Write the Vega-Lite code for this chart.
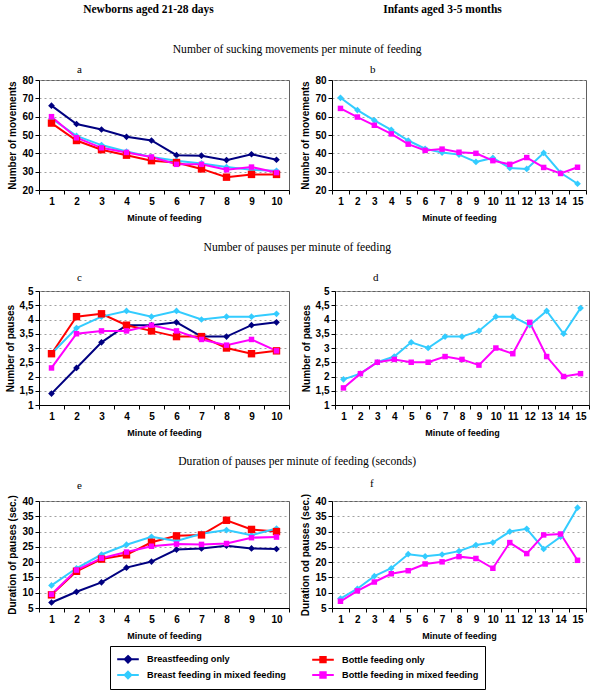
{
  "$schema": "https://vega.github.io/schema/vega-lite/v6.json",
  "background": "white",
  "padding": {"left": 4, "top": 4, "right": 4, "bottom": 4},
  "config": {
    "view": {"stroke": "#606060"},
    "font": "Liberation Sans",
    "axis": {
      "labelFont": "Liberation Sans", "labelFontWeight": "bold", "labelFontSize": 10, "labelColor": "black",
      "titleFont": "Liberation Sans", "titleFontWeight": "bold", "titleFontSize": 10, "titleColor": "black",
      "domainColor": "black", "tickColor": "black", "tickSize": 4
    },
    "axisX": {"labelAngle": 0, "grid": false, "tickBand": "extent", "titlePadding": 7, "titleFontSize": 9},
    "axisY": {"gridDash": [2, 3], "gridColor": "#a0a0a0", "titlePadding": 4},
    "title": {"font": "Liberation Serif", "fontWeight": "normal", "fontSize": 11, "color": "black"},
    "legend": {
      "orient": "bottom", "columns": 2, "columnPadding": 22, "rowPadding": 0, "offset": 5,
      "labelFont": "Liberation Sans", "labelFontWeight": "bold", "labelFontSize": 9.2, "labelColor": "black",
      "symbolSize": 144, "symbolStrokeWidth": 2, "symbolOffset": 5, "labelOffset": 12,
      "strokeColor": "black", "padding": 6, "labelLimit": 300,
      "layout": {"anchor": "middle"}
    }
  },
  "datasets": {
    "feeding": [
      {"panel": "a", "minute": 1, "series": "Breastfeeding only", "value": 66},
      {"panel": "a", "minute": 2, "series": "Breastfeeding only", "value": 56},
      {"panel": "a", "minute": 3, "series": "Breastfeeding only", "value": 53},
      {"panel": "a", "minute": 4, "series": "Breastfeeding only", "value": 49},
      {"panel": "a", "minute": 5, "series": "Breastfeeding only", "value": 47},
      {"panel": "a", "minute": 6, "series": "Breastfeeding only", "value": 39},
      {"panel": "a", "minute": 7, "series": "Breastfeeding only", "value": 38.7},
      {"panel": "a", "minute": 8, "series": "Breastfeeding only", "value": 36.3},
      {"panel": "a", "minute": 9, "series": "Breastfeeding only", "value": 39.5},
      {"panel": "a", "minute": 10, "series": "Breastfeeding only", "value": 36.5},
      {"panel": "a", "minute": 1, "series": "Bottle feeding only", "value": 56.5},
      {"panel": "a", "minute": 2, "series": "Bottle feeding only", "value": 47},
      {"panel": "a", "minute": 3, "series": "Bottle feeding only", "value": 42},
      {"panel": "a", "minute": 4, "series": "Bottle feeding only", "value": 39},
      {"panel": "a", "minute": 5, "series": "Bottle feeding only", "value": 36},
      {"panel": "a", "minute": 6, "series": "Bottle feeding only", "value": 35},
      {"panel": "a", "minute": 7, "series": "Bottle feeding only", "value": 31.5},
      {"panel": "a", "minute": 8, "series": "Bottle feeding only", "value": 27},
      {"panel": "a", "minute": 9, "series": "Bottle feeding only", "value": 28.5},
      {"panel": "a", "minute": 10, "series": "Bottle feeding only", "value": 28.5},
      {"panel": "a", "minute": 1, "series": "Breast feeding in mixed feeding", "value": 59},
      {"panel": "a", "minute": 2, "series": "Breast feeding in mixed feeding", "value": 49.5},
      {"panel": "a", "minute": 3, "series": "Breast feeding in mixed feeding", "value": 44.5},
      {"panel": "a", "minute": 4, "series": "Breast feeding in mixed feeding", "value": 41},
      {"panel": "a", "minute": 5, "series": "Breast feeding in mixed feeding", "value": 38},
      {"panel": "a", "minute": 6, "series": "Breast feeding in mixed feeding", "value": 36},
      {"panel": "a", "minute": 7, "series": "Breast feeding in mixed feeding", "value": 34.5},
      {"panel": "a", "minute": 8, "series": "Breast feeding in mixed feeding", "value": 32.5},
      {"panel": "a", "minute": 9, "series": "Breast feeding in mixed feeding", "value": 31},
      {"panel": "a", "minute": 10, "series": "Breast feeding in mixed feeding", "value": 30.5},
      {"panel": "a", "minute": 1, "series": "Bottle feeding in mixed feeding", "value": 60},
      {"panel": "a", "minute": 2, "series": "Bottle feeding in mixed feeding", "value": 48.5},
      {"panel": "a", "minute": 3, "series": "Bottle feeding in mixed feeding", "value": 43},
      {"panel": "a", "minute": 4, "series": "Bottle feeding in mixed feeding", "value": 40.5},
      {"panel": "a", "minute": 5, "series": "Bottle feeding in mixed feeding", "value": 38},
      {"panel": "a", "minute": 6, "series": "Bottle feeding in mixed feeding", "value": 34},
      {"panel": "a", "minute": 7, "series": "Bottle feeding in mixed feeding", "value": 34},
      {"panel": "a", "minute": 8, "series": "Bottle feeding in mixed feeding", "value": 31},
      {"panel": "a", "minute": 9, "series": "Bottle feeding in mixed feeding", "value": 32.5},
      {"panel": "a", "minute": 10, "series": "Bottle feeding in mixed feeding", "value": 29.5},
      {"panel": "b", "minute": 1, "series": "Breast feeding in mixed feeding", "value": 70.3},
      {"panel": "b", "minute": 2, "series": "Breast feeding in mixed feeding", "value": 63.6},
      {"panel": "b", "minute": 3, "series": "Breast feeding in mixed feeding", "value": 58},
      {"panel": "b", "minute": 4, "series": "Breast feeding in mixed feeding", "value": 52.8},
      {"panel": "b", "minute": 5, "series": "Breast feeding in mixed feeding", "value": 47},
      {"panel": "b", "minute": 6, "series": "Breast feeding in mixed feeding", "value": 42.5},
      {"panel": "b", "minute": 7, "series": "Breast feeding in mixed feeding", "value": 40.4},
      {"panel": "b", "minute": 8, "series": "Breast feeding in mixed feeding", "value": 39.3},
      {"panel": "b", "minute": 9, "series": "Breast feeding in mixed feeding", "value": 35.3},
      {"panel": "b", "minute": 10, "series": "Breast feeding in mixed feeding", "value": 37.5},
      {"panel": "b", "minute": 11, "series": "Breast feeding in mixed feeding", "value": 32},
      {"panel": "b", "minute": 12, "series": "Breast feeding in mixed feeding", "value": 31.5},
      {"panel": "b", "minute": 13, "series": "Breast feeding in mixed feeding", "value": 40.2},
      {"panel": "b", "minute": 14, "series": "Breast feeding in mixed feeding", "value": 29.4},
      {"panel": "b", "minute": 15, "series": "Breast feeding in mixed feeding", "value": 23.4},
      {"panel": "b", "minute": 1, "series": "Bottle feeding in mixed feeding", "value": 64.5},
      {"panel": "b", "minute": 2, "series": "Bottle feeding in mixed feeding", "value": 59.8},
      {"panel": "b", "minute": 3, "series": "Bottle feeding in mixed feeding", "value": 55.3},
      {"panel": "b", "minute": 4, "series": "Bottle feeding in mixed feeding", "value": 50.6},
      {"panel": "b", "minute": 5, "series": "Bottle feeding in mixed feeding", "value": 45},
      {"panel": "b", "minute": 6, "series": "Bottle feeding in mixed feeding", "value": 41.6},
      {"panel": "b", "minute": 7, "series": "Bottle feeding in mixed feeding", "value": 42.3},
      {"panel": "b", "minute": 8, "series": "Bottle feeding in mixed feeding", "value": 40.6},
      {"panel": "b", "minute": 9, "series": "Bottle feeding in mixed feeding", "value": 40},
      {"panel": "b", "minute": 10, "series": "Bottle feeding in mixed feeding", "value": 36},
      {"panel": "b", "minute": 11, "series": "Bottle feeding in mixed feeding", "value": 34},
      {"panel": "b", "minute": 12, "series": "Bottle feeding in mixed feeding", "value": 37.7},
      {"panel": "b", "minute": 13, "series": "Bottle feeding in mixed feeding", "value": 32.3},
      {"panel": "b", "minute": 14, "series": "Bottle feeding in mixed feeding", "value": 29},
      {"panel": "b", "minute": 15, "series": "Bottle feeding in mixed feeding", "value": 32.4},
      {"panel": "c", "minute": 1, "series": "Breastfeeding only", "value": 1.4},
      {"panel": "c", "minute": 2, "series": "Breastfeeding only", "value": 2.3},
      {"panel": "c", "minute": 3, "series": "Breastfeeding only", "value": 3.2},
      {"panel": "c", "minute": 4, "series": "Breastfeeding only", "value": 3.8},
      {"panel": "c", "minute": 5, "series": "Breastfeeding only", "value": 3.8},
      {"panel": "c", "minute": 6, "series": "Breastfeeding only", "value": 3.9},
      {"panel": "c", "minute": 7, "series": "Breastfeeding only", "value": 3.4},
      {"panel": "c", "minute": 8, "series": "Breastfeeding only", "value": 3.4},
      {"panel": "c", "minute": 9, "series": "Breastfeeding only", "value": 3.8},
      {"panel": "c", "minute": 10, "series": "Breastfeeding only", "value": 3.9},
      {"panel": "c", "minute": 1, "series": "Bottle feeding only", "value": 2.8},
      {"panel": "c", "minute": 2, "series": "Bottle feeding only", "value": 4.1},
      {"panel": "c", "minute": 3, "series": "Bottle feeding only", "value": 4.2},
      {"panel": "c", "minute": 4, "series": "Bottle feeding only", "value": 3.8},
      {"panel": "c", "minute": 5, "series": "Bottle feeding only", "value": 3.6},
      {"panel": "c", "minute": 6, "series": "Bottle feeding only", "value": 3.4},
      {"panel": "c", "minute": 7, "series": "Bottle feeding only", "value": 3.4},
      {"panel": "c", "minute": 8, "series": "Bottle feeding only", "value": 3.0},
      {"panel": "c", "minute": 9, "series": "Bottle feeding only", "value": 2.8},
      {"panel": "c", "minute": 10, "series": "Bottle feeding only", "value": 2.9},
      {"panel": "c", "minute": 1, "series": "Breast feeding in mixed feeding", "value": 2.8},
      {"panel": "c", "minute": 2, "series": "Breast feeding in mixed feeding", "value": 3.7},
      {"panel": "c", "minute": 3, "series": "Breast feeding in mixed feeding", "value": 4.1},
      {"panel": "c", "minute": 4, "series": "Breast feeding in mixed feeding", "value": 4.3},
      {"panel": "c", "minute": 5, "series": "Breast feeding in mixed feeding", "value": 4.1},
      {"panel": "c", "minute": 6, "series": "Breast feeding in mixed feeding", "value": 4.3},
      {"panel": "c", "minute": 7, "series": "Breast feeding in mixed feeding", "value": 4.0},
      {"panel": "c", "minute": 8, "series": "Breast feeding in mixed feeding", "value": 4.1},
      {"panel": "c", "minute": 9, "series": "Breast feeding in mixed feeding", "value": 4.1},
      {"panel": "c", "minute": 10, "series": "Breast feeding in mixed feeding", "value": 4.2},
      {"panel": "c", "minute": 1, "series": "Bottle feeding in mixed feeding", "value": 2.3},
      {"panel": "c", "minute": 2, "series": "Bottle feeding in mixed feeding", "value": 3.5},
      {"panel": "c", "minute": 3, "series": "Bottle feeding in mixed feeding", "value": 3.6},
      {"panel": "c", "minute": 4, "series": "Bottle feeding in mixed feeding", "value": 3.6},
      {"panel": "c", "minute": 5, "series": "Bottle feeding in mixed feeding", "value": 3.8},
      {"panel": "c", "minute": 6, "series": "Bottle feeding in mixed feeding", "value": 3.6},
      {"panel": "c", "minute": 7, "series": "Bottle feeding in mixed feeding", "value": 3.3},
      {"panel": "c", "minute": 8, "series": "Bottle feeding in mixed feeding", "value": 3.1},
      {"panel": "c", "minute": 9, "series": "Bottle feeding in mixed feeding", "value": 3.3},
      {"panel": "c", "minute": 10, "series": "Bottle feeding in mixed feeding", "value": 2.9},
      {"panel": "d", "minute": 1, "series": "Breast feeding in mixed feeding", "value": 1.9},
      {"panel": "d", "minute": 2, "series": "Breast feeding in mixed feeding", "value": 2.1},
      {"panel": "d", "minute": 3, "series": "Breast feeding in mixed feeding", "value": 2.5},
      {"panel": "d", "minute": 4, "series": "Breast feeding in mixed feeding", "value": 2.7},
      {"panel": "d", "minute": 5, "series": "Breast feeding in mixed feeding", "value": 3.2},
      {"panel": "d", "minute": 6, "series": "Breast feeding in mixed feeding", "value": 3.0},
      {"panel": "d", "minute": 7, "series": "Breast feeding in mixed feeding", "value": 3.4},
      {"panel": "d", "minute": 8, "series": "Breast feeding in mixed feeding", "value": 3.4},
      {"panel": "d", "minute": 9, "series": "Breast feeding in mixed feeding", "value": 3.6},
      {"panel": "d", "minute": 10, "series": "Breast feeding in mixed feeding", "value": 4.1},
      {"panel": "d", "minute": 11, "series": "Breast feeding in mixed feeding", "value": 4.1},
      {"panel": "d", "minute": 12, "series": "Breast feeding in mixed feeding", "value": 3.8},
      {"panel": "d", "minute": 13, "series": "Breast feeding in mixed feeding", "value": 4.3},
      {"panel": "d", "minute": 14, "series": "Breast feeding in mixed feeding", "value": 3.5},
      {"panel": "d", "minute": 15, "series": "Breast feeding in mixed feeding", "value": 4.4},
      {"panel": "d", "minute": 1, "series": "Bottle feeding in mixed feeding", "value": 1.6},
      {"panel": "d", "minute": 2, "series": "Bottle feeding in mixed feeding", "value": 2.1},
      {"panel": "d", "minute": 3, "series": "Bottle feeding in mixed feeding", "value": 2.5},
      {"panel": "d", "minute": 4, "series": "Bottle feeding in mixed feeding", "value": 2.6},
      {"panel": "d", "minute": 5, "series": "Bottle feeding in mixed feeding", "value": 2.5},
      {"panel": "d", "minute": 6, "series": "Bottle feeding in mixed feeding", "value": 2.5},
      {"panel": "d", "minute": 7, "series": "Bottle feeding in mixed feeding", "value": 2.7},
      {"panel": "d", "minute": 8, "series": "Bottle feeding in mixed feeding", "value": 2.6},
      {"panel": "d", "minute": 9, "series": "Bottle feeding in mixed feeding", "value": 2.4},
      {"panel": "d", "minute": 10, "series": "Bottle feeding in mixed feeding", "value": 3.0},
      {"panel": "d", "minute": 11, "series": "Bottle feeding in mixed feeding", "value": 2.8},
      {"panel": "d", "minute": 12, "series": "Bottle feeding in mixed feeding", "value": 3.9},
      {"panel": "d", "minute": 13, "series": "Bottle feeding in mixed feeding", "value": 2.7},
      {"panel": "d", "minute": 14, "series": "Bottle feeding in mixed feeding", "value": 2.0},
      {"panel": "d", "minute": 15, "series": "Bottle feeding in mixed feeding", "value": 2.1},
      {"panel": "e", "minute": 1, "series": "Breastfeeding only", "value": 6.8},
      {"panel": "e", "minute": 2, "series": "Breastfeeding only", "value": 10.3},
      {"panel": "e", "minute": 3, "series": "Breastfeeding only", "value": 13.4},
      {"panel": "e", "minute": 4, "series": "Breastfeeding only", "value": 18.2},
      {"panel": "e", "minute": 5, "series": "Breastfeeding only", "value": 20.2},
      {"panel": "e", "minute": 6, "series": "Breastfeeding only", "value": 24.1},
      {"panel": "e", "minute": 7, "series": "Breastfeeding only", "value": 24.5},
      {"panel": "e", "minute": 8, "series": "Breastfeeding only", "value": 25.4},
      {"panel": "e", "minute": 9, "series": "Breastfeeding only", "value": 24.5},
      {"panel": "e", "minute": 10, "series": "Breastfeeding only", "value": 24.3},
      {"panel": "e", "minute": 1, "series": "Bottle feeding only", "value": 9.3},
      {"panel": "e", "minute": 2, "series": "Bottle feeding only", "value": 17},
      {"panel": "e", "minute": 3, "series": "Bottle feeding only", "value": 21},
      {"panel": "e", "minute": 4, "series": "Bottle feeding only", "value": 22.4},
      {"panel": "e", "minute": 5, "series": "Bottle feeding only", "value": 26.5},
      {"panel": "e", "minute": 6, "series": "Bottle feeding only", "value": 28.6},
      {"panel": "e", "minute": 7, "series": "Bottle feeding only", "value": 28.9},
      {"panel": "e", "minute": 8, "series": "Bottle feeding only", "value": 33.7},
      {"panel": "e", "minute": 9, "series": "Bottle feeding only", "value": 30.7},
      {"panel": "e", "minute": 10, "series": "Bottle feeding only", "value": 30},
      {"panel": "e", "minute": 1, "series": "Breast feeding in mixed feeding", "value": 12.4},
      {"panel": "e", "minute": 2, "series": "Breast feeding in mixed feeding", "value": 18},
      {"panel": "e", "minute": 3, "series": "Breast feeding in mixed feeding", "value": 22.5},
      {"panel": "e", "minute": 4, "series": "Breast feeding in mixed feeding", "value": 25.7},
      {"panel": "e", "minute": 5, "series": "Breast feeding in mixed feeding", "value": 28.3},
      {"panel": "e", "minute": 6, "series": "Breast feeding in mixed feeding", "value": 26.9},
      {"panel": "e", "minute": 7, "series": "Breast feeding in mixed feeding", "value": 29.3},
      {"panel": "e", "minute": 8, "series": "Breast feeding in mixed feeding", "value": 30.5},
      {"panel": "e", "minute": 9, "series": "Breast feeding in mixed feeding", "value": 28.8},
      {"panel": "e", "minute": 10, "series": "Breast feeding in mixed feeding", "value": 31},
      {"panel": "e", "minute": 1, "series": "Bottle feeding in mixed feeding", "value": 9.5},
      {"panel": "e", "minute": 2, "series": "Bottle feeding in mixed feeding", "value": 17.4},
      {"panel": "e", "minute": 3, "series": "Bottle feeding in mixed feeding", "value": 21.3},
      {"panel": "e", "minute": 4, "series": "Bottle feeding in mixed feeding", "value": 23.3},
      {"panel": "e", "minute": 5, "series": "Bottle feeding in mixed feeding", "value": 25.2},
      {"panel": "e", "minute": 6, "series": "Bottle feeding in mixed feeding", "value": 25.9},
      {"panel": "e", "minute": 7, "series": "Bottle feeding in mixed feeding", "value": 25.8},
      {"panel": "e", "minute": 8, "series": "Bottle feeding in mixed feeding", "value": 26.1},
      {"panel": "e", "minute": 9, "series": "Bottle feeding in mixed feeding", "value": 28},
      {"panel": "e", "minute": 10, "series": "Bottle feeding in mixed feeding", "value": 28.2},
      {"panel": "f", "minute": 1, "series": "Breast feeding in mixed feeding", "value": 8.1},
      {"panel": "f", "minute": 2, "series": "Breast feeding in mixed feeding", "value": 11.3},
      {"panel": "f", "minute": 3, "series": "Breast feeding in mixed feeding", "value": 15.4},
      {"panel": "f", "minute": 4, "series": "Breast feeding in mixed feeding", "value": 18},
      {"panel": "f", "minute": 5, "series": "Breast feeding in mixed feeding", "value": 22.6},
      {"panel": "f", "minute": 6, "series": "Breast feeding in mixed feeding", "value": 21.9},
      {"panel": "f", "minute": 7, "series": "Breast feeding in mixed feeding", "value": 22.5},
      {"panel": "f", "minute": 8, "series": "Breast feeding in mixed feeding", "value": 23.6},
      {"panel": "f", "minute": 9, "series": "Breast feeding in mixed feeding", "value": 25.6},
      {"panel": "f", "minute": 10, "series": "Breast feeding in mixed feeding", "value": 26.4},
      {"panel": "f", "minute": 11, "series": "Breast feeding in mixed feeding", "value": 30},
      {"panel": "f", "minute": 12, "series": "Breast feeding in mixed feeding", "value": 30.9},
      {"panel": "f", "minute": 13, "series": "Breast feeding in mixed feeding", "value": 24.3},
      {"panel": "f", "minute": 14, "series": "Breast feeding in mixed feeding", "value": 28.3},
      {"panel": "f", "minute": 15, "series": "Breast feeding in mixed feeding", "value": 37.8},
      {"panel": "f", "minute": 1, "series": "Bottle feeding in mixed feeding", "value": 7.2},
      {"panel": "f", "minute": 2, "series": "Bottle feeding in mixed feeding", "value": 10.6},
      {"panel": "f", "minute": 3, "series": "Bottle feeding in mixed feeding", "value": 13.5},
      {"panel": "f", "minute": 4, "series": "Bottle feeding in mixed feeding", "value": 16.2},
      {"panel": "f", "minute": 5, "series": "Bottle feeding in mixed feeding", "value": 17.2},
      {"panel": "f", "minute": 6, "series": "Bottle feeding in mixed feeding", "value": 19.4},
      {"panel": "f", "minute": 7, "series": "Bottle feeding in mixed feeding", "value": 20.1},
      {"panel": "f", "minute": 8, "series": "Bottle feeding in mixed feeding", "value": 21.8},
      {"panel": "f", "minute": 9, "series": "Bottle feeding in mixed feeding", "value": 21.2},
      {"panel": "f", "minute": 10, "series": "Bottle feeding in mixed feeding", "value": 18},
      {"panel": "f", "minute": 11, "series": "Bottle feeding in mixed feeding", "value": 26.4},
      {"panel": "f", "minute": 12, "series": "Bottle feeding in mixed feeding", "value": 22.8},
      {"panel": "f", "minute": 13, "series": "Bottle feeding in mixed feeding", "value": 28.9},
      {"panel": "f", "minute": 14, "series": "Bottle feeding in mixed feeding", "value": 29.2},
      {"panel": "f", "minute": 15, "series": "Bottle feeding in mixed feeding", "value": 20.6}
    ],
    "headers": [
      {"column": "left", "label": "Newborns aged 21-28 days"},
      {"column": "right", "label": "Infants aged 3-5 months"}
    ]
  },
  "spacing": 18,
  "resolve": {"scale": {"color": "shared"}},
  "vconcat": [
    {
      "data": {"name": "headers"},
      "width": 513,
      "height": 20,
      "view": {"stroke": null},
      "mark": {"type": "text", "font": "Liberation Serif", "fontWeight": "bold", "fontSize": 11.5, "color": "black", "align": "center", "dy": -5},
      "encoding": {
        "x": {"field": "column", "type": "nominal", "axis": null, "scale": {"type": "band", "paddingInner": 0.255, "paddingOuter": 0}},
        "text": {"field": "label"}
      }
    },
    {
      "title": {"text": "Number of sucking movements per minute of feeding", "anchor": "middle", "fontSize": 11.6, "offset": 8},
      "spacing": 10,
      "resolve": {"scale": {"x": "independent", "y": "independent", "color": "shared"}},
      "hconcat": [
        {
          "title": {"text": "a", "anchor": "start", "frame": "group", "dx": 38, "offset": 0},
          "data": {"name": "feeding"},
          "transform": [{"filter": "datum.panel === 'a'"}],
          "width": 250, "height": 110,
          "encoding": {
            "x": {"field": "minute", "type": "ordinal", "title": "Minute of feeding", "scale": {"type": "band", "paddingInner": 0, "paddingOuter": 0}},
            "y": {"field": "value", "type": "quantitative", "title": "Number of movements", "scale": {"domain": [20, 80], "nice": false, "zero": false}, "axis": {"values": [20, 30, 40, 50, 60, 70, 80]}},
            "color": {"field": "series", "type": "nominal", "title": null,
              "scale": {"domain": ["Breastfeeding only", "Bottle feeding only", "Breast feeding in mixed feeding", "Bottle feeding in mixed feeding"], "range": ["#000080", "#ff0000", "#33ccff", "#ff00ff"]},
              "legend": {"title": null, "encode": {"symbols": {"update": {
                "shape": {"signal": "(datum.value === 'Breastfeeding only' || datum.value === 'Breast feeding in mixed feeding') ? 'M-1.8,0H1.8M0,-0.55L0.55,0L0,0.55L-0.55,0Z' : 'M-1.8,0H1.8M-0.45,-0.45H0.45V0.45H-0.45Z'"},
                "fill": {"scale": "color", "field": "value"},
                "stroke": {"scale": "color", "field": "value"},
                "strokeWidth": {"value": 2}
              }}}}
            }
          },
          "layer": [
            {"mark": {"type": "line", "strokeWidth": 2}},
            {"transform": [{"filter": "datum.series === 'Breastfeeding only' || datum.series === 'Breast feeding in mixed feeding'"}],
             "mark": {"type": "point", "shape": "diamond", "filled": true, "opacity": 1, "size": 45}},
            {"transform": [{"filter": "datum.series === 'Bottle feeding only'"}],
             "mark": {"type": "point", "shape": "square", "filled": true, "opacity": 1, "size": 55}},
            {"transform": [{"filter": "datum.series === 'Bottle feeding in mixed feeding'"}],
             "mark": {"type": "point", "shape": "square", "filled": true, "opacity": 1, "size": 30}}
          ]
        },
        {
          "title": {"text": "b", "anchor": "start", "frame": "group", "dx": 38, "offset": 0},
          "data": {"name": "feeding"},
          "transform": [{"filter": "datum.panel === 'b'"}],
          "width": 254, "height": 110,
          "encoding": {
            "x": {"field": "minute", "type": "ordinal", "title": "Minute of feeding", "scale": {"type": "band", "paddingInner": 0, "paddingOuter": 0}},
            "y": {"field": "value", "type": "quantitative", "title": "Number of movements", "scale": {"domain": [20, 80], "nice": false, "zero": false}, "axis": {"values": [20, 30, 40, 50, 60, 70, 80]}},
            "color": {"field": "series", "type": "nominal", "title": null,
              "scale": {"domain": ["Breastfeeding only", "Bottle feeding only", "Breast feeding in mixed feeding", "Bottle feeding in mixed feeding"], "range": ["#000080", "#ff0000", "#33ccff", "#ff00ff"]},
              "legend": {"title": null, "encode": {"symbols": {"update": {
                "shape": {"signal": "(datum.value === 'Breastfeeding only' || datum.value === 'Breast feeding in mixed feeding') ? 'M-1.8,0H1.8M0,-0.55L0.55,0L0,0.55L-0.55,0Z' : 'M-1.8,0H1.8M-0.45,-0.45H0.45V0.45H-0.45Z'"},
                "fill": {"scale": "color", "field": "value"},
                "stroke": {"scale": "color", "field": "value"},
                "strokeWidth": {"value": 2}
              }}}}
            }
          },
          "layer": [
            {"mark": {"type": "line", "strokeWidth": 2}},
            {"transform": [{"filter": "datum.series === 'Breastfeeding only' || datum.series === 'Breast feeding in mixed feeding'"}],
             "mark": {"type": "point", "shape": "diamond", "filled": true, "opacity": 1, "size": 45}},
            {"transform": [{"filter": "datum.series === 'Bottle feeding only'"}],
             "mark": {"type": "point", "shape": "square", "filled": true, "opacity": 1, "size": 55}},
            {"transform": [{"filter": "datum.series === 'Bottle feeding in mixed feeding'"}],
             "mark": {"type": "point", "shape": "square", "filled": true, "opacity": 1, "size": 30}}
          ]
        }
      ]
    },
    {
      "title": {"text": "Number of pauses per minute of feeding", "anchor": "middle", "fontSize": 11.6, "offset": 18},
      "spacing": 10,
      "resolve": {"scale": {"x": "independent", "y": "independent", "color": "shared"}},
      "hconcat": [
        {
          "title": {"text": "c", "anchor": "start", "frame": "group", "dx": 38, "offset": 3},
          "data": {"name": "feeding"},
          "transform": [{"filter": "datum.panel === 'c'"}],
          "width": 250, "height": 114,
          "encoding": {
            "x": {"field": "minute", "type": "ordinal", "title": "Minute of feeding", "scale": {"type": "band", "paddingInner": 0, "paddingOuter": 0}},
            "y": {"field": "value", "type": "quantitative", "title": "Number of pauses", "scale": {"domain": [1, 5], "nice": false, "zero": false}, "axis": {"values": [1, 1.5, 2, 2.5, 3, 3.5, 4, 4.5, 5], "labelExpr": "replace(format(datum.value, '~g'), '.', ',')"}},
            "color": {"field": "series", "type": "nominal", "title": null,
              "scale": {"domain": ["Breastfeeding only", "Bottle feeding only", "Breast feeding in mixed feeding", "Bottle feeding in mixed feeding"], "range": ["#000080", "#ff0000", "#33ccff", "#ff00ff"]},
              "legend": {"title": null, "encode": {"symbols": {"update": {
                "shape": {"signal": "(datum.value === 'Breastfeeding only' || datum.value === 'Breast feeding in mixed feeding') ? 'M-1.8,0H1.8M0,-0.55L0.55,0L0,0.55L-0.55,0Z' : 'M-1.8,0H1.8M-0.45,-0.45H0.45V0.45H-0.45Z'"},
                "fill": {"scale": "color", "field": "value"},
                "stroke": {"scale": "color", "field": "value"},
                "strokeWidth": {"value": 2}
              }}}}
            }
          },
          "layer": [
            {"mark": {"type": "line", "strokeWidth": 2}},
            {"transform": [{"filter": "datum.series === 'Breastfeeding only' || datum.series === 'Breast feeding in mixed feeding'"}],
             "mark": {"type": "point", "shape": "diamond", "filled": true, "opacity": 1, "size": 45}},
            {"transform": [{"filter": "datum.series === 'Bottle feeding only'"}],
             "mark": {"type": "point", "shape": "square", "filled": true, "opacity": 1, "size": 55}},
            {"transform": [{"filter": "datum.series === 'Bottle feeding in mixed feeding'"}],
             "mark": {"type": "point", "shape": "square", "filled": true, "opacity": 1, "size": 30}}
          ]
        },
        {
          "title": {"text": "d", "anchor": "start", "frame": "group", "dx": 38, "offset": 3},
          "data": {"name": "feeding"},
          "transform": [{"filter": "datum.panel === 'd'"}],
          "width": 254, "height": 114,
          "encoding": {
            "x": {"field": "minute", "type": "ordinal", "title": "Minute of feeding", "scale": {"type": "band", "paddingInner": 0, "paddingOuter": 0}},
            "y": {"field": "value", "type": "quantitative", "title": "Number of pauses", "scale": {"domain": [1, 5], "nice": false, "zero": false}, "axis": {"values": [1, 1.5, 2, 2.5, 3, 3.5, 4, 4.5, 5], "labelExpr": "replace(format(datum.value, '~g'), '.', ',')"}},
            "color": {"field": "series", "type": "nominal", "title": null,
              "scale": {"domain": ["Breastfeeding only", "Bottle feeding only", "Breast feeding in mixed feeding", "Bottle feeding in mixed feeding"], "range": ["#000080", "#ff0000", "#33ccff", "#ff00ff"]},
              "legend": {"title": null, "encode": {"symbols": {"update": {
                "shape": {"signal": "(datum.value === 'Breastfeeding only' || datum.value === 'Breast feeding in mixed feeding') ? 'M-1.8,0H1.8M0,-0.55L0.55,0L0,0.55L-0.55,0Z' : 'M-1.8,0H1.8M-0.45,-0.45H0.45V0.45H-0.45Z'"},
                "fill": {"scale": "color", "field": "value"},
                "stroke": {"scale": "color", "field": "value"},
                "strokeWidth": {"value": 2}
              }}}}
            }
          },
          "layer": [
            {"mark": {"type": "line", "strokeWidth": 2}},
            {"transform": [{"filter": "datum.series === 'Breastfeeding only' || datum.series === 'Breast feeding in mixed feeding'"}],
             "mark": {"type": "point", "shape": "diamond", "filled": true, "opacity": 1, "size": 45}},
            {"transform": [{"filter": "datum.series === 'Bottle feeding only'"}],
             "mark": {"type": "point", "shape": "square", "filled": true, "opacity": 1, "size": 55}},
            {"transform": [{"filter": "datum.series === 'Bottle feeding in mixed feeding'"}],
             "mark": {"type": "point", "shape": "square", "filled": true, "opacity": 1, "size": 30}}
          ]
        }
      ]
    },
    {
      "title": {"text": "Duration of pauses per minute of feeding (seconds)", "anchor": "middle", "fontSize": 11.6, "offset": 14, "dy": 4},
      "spacing": 10,
      "resolve": {"scale": {"x": "independent", "y": "independent", "color": "shared"}},
      "hconcat": [
        {
          "title": {"text": "e", "anchor": "start", "frame": "group", "dx": 38, "offset": 4},
          "data": {"name": "feeding"},
          "transform": [{"filter": "datum.panel === 'e'"}],
          "width": 250, "height": 107,
          "encoding": {
            "x": {"field": "minute", "type": "ordinal", "title": "Minute of feeding", "scale": {"type": "band", "paddingInner": 0, "paddingOuter": 0}},
            "y": {"field": "value", "type": "quantitative", "title": "Duration of pauses (sec.)", "scale": {"domain": [5, 40], "nice": false, "zero": false}, "axis": {"values": [5, 10, 15, 20, 25, 30, 35, 40]}},
            "color": {"field": "series", "type": "nominal", "title": null,
              "scale": {"domain": ["Breastfeeding only", "Bottle feeding only", "Breast feeding in mixed feeding", "Bottle feeding in mixed feeding"], "range": ["#000080", "#ff0000", "#33ccff", "#ff00ff"]},
              "legend": {"title": null, "encode": {"symbols": {"update": {
                "shape": {"signal": "(datum.value === 'Breastfeeding only' || datum.value === 'Breast feeding in mixed feeding') ? 'M-1.8,0H1.8M0,-0.55L0.55,0L0,0.55L-0.55,0Z' : 'M-1.8,0H1.8M-0.45,-0.45H0.45V0.45H-0.45Z'"},
                "fill": {"scale": "color", "field": "value"},
                "stroke": {"scale": "color", "field": "value"},
                "strokeWidth": {"value": 2}
              }}}}
            }
          },
          "layer": [
            {"mark": {"type": "line", "strokeWidth": 2}},
            {"transform": [{"filter": "datum.series === 'Breastfeeding only' || datum.series === 'Breast feeding in mixed feeding'"}],
             "mark": {"type": "point", "shape": "diamond", "filled": true, "opacity": 1, "size": 45}},
            {"transform": [{"filter": "datum.series === 'Bottle feeding only'"}],
             "mark": {"type": "point", "shape": "square", "filled": true, "opacity": 1, "size": 55}},
            {"transform": [{"filter": "datum.series === 'Bottle feeding in mixed feeding'"}],
             "mark": {"type": "point", "shape": "square", "filled": true, "opacity": 1, "size": 30}}
          ]
        },
        {
          "title": {"text": "f", "anchor": "start", "frame": "group", "dx": 38, "offset": 4},
          "data": {"name": "feeding"},
          "transform": [{"filter": "datum.panel === 'f'"}],
          "width": 254, "height": 107,
          "encoding": {
            "x": {"field": "minute", "type": "ordinal", "title": "Minute of feeding", "scale": {"type": "band", "paddingInner": 0, "paddingOuter": 0}},
            "y": {"field": "value", "type": "quantitative", "title": "Duration od pauses (sec.)", "scale": {"domain": [5, 40], "nice": false, "zero": false}, "axis": {"values": [5, 10, 15, 20, 25, 30, 35, 40]}},
            "color": {"field": "series", "type": "nominal", "title": null,
              "scale": {"domain": ["Breastfeeding only", "Bottle feeding only", "Breast feeding in mixed feeding", "Bottle feeding in mixed feeding"], "range": ["#000080", "#ff0000", "#33ccff", "#ff00ff"]},
              "legend": {"title": null, "encode": {"symbols": {"update": {
                "shape": {"signal": "(datum.value === 'Breastfeeding only' || datum.value === 'Breast feeding in mixed feeding') ? 'M-1.8,0H1.8M0,-0.55L0.55,0L0,0.55L-0.55,0Z' : 'M-1.8,0H1.8M-0.45,-0.45H0.45V0.45H-0.45Z'"},
                "fill": {"scale": "color", "field": "value"},
                "stroke": {"scale": "color", "field": "value"},
                "strokeWidth": {"value": 2}
              }}}}
            }
          },
          "layer": [
            {"mark": {"type": "line", "strokeWidth": 2}},
            {"transform": [{"filter": "datum.series === 'Breastfeeding only' || datum.series === 'Breast feeding in mixed feeding'"}],
             "mark": {"type": "point", "shape": "diamond", "filled": true, "opacity": 1, "size": 45}},
            {"transform": [{"filter": "datum.series === 'Bottle feeding only'"}],
             "mark": {"type": "point", "shape": "square", "filled": true, "opacity": 1, "size": 55}},
            {"transform": [{"filter": "datum.series === 'Bottle feeding in mixed feeding'"}],
             "mark": {"type": "point", "shape": "square", "filled": true, "opacity": 1, "size": 30}}
          ]
        }
      ]
    }
  ]
}
